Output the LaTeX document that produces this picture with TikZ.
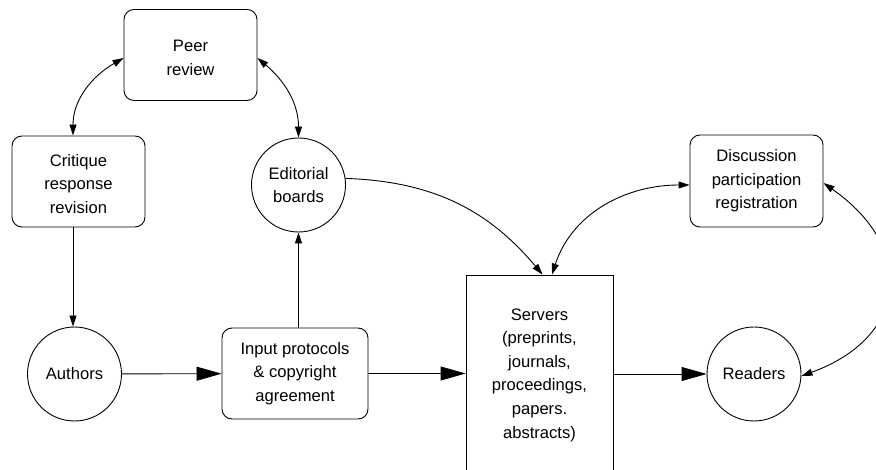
\documentclass[tikz,border=0pt]{standalone}
\usepackage{fontspec}
\setmainfont{Liberation Sans}
\usetikzlibrary{arrows.meta}
% stacked lines lowered a little inside their box, keeping the box's reported size
\newcommand{\lowstack}[2]{\raisebox{-#1}[\height][\depth]{\begin{tabular}{@{}c@{}}#2\end{tabular}}}
\begin{document}
\begin{tikzpicture}[x=1pt,y=-1pt,
  every node/.style={font=\fontsize{16.6}{23.6}\selectfont, align=center, inner sep=0pt},
  roundbox/.style={draw, line width=0.9pt, rounded corners=10pt, minimum width=#1},
  roundbox/.default=133pt,
  disc/.style={draw, line width=0.9pt, circle, minimum size=94pt},
  flow/.style={line width=0.9pt, -{Triangle[length=25pt,width=14pt]}},
  thin/.style={line width=0.9pt, -{Triangle[length=11pt,width=7pt]}},
  both/.style={line width=0.9pt, {Triangle[length=11pt,width=7pt]}-{Triangle[length=11pt,width=7pt]}}
]
\useasboundingbox (0,0) rectangle (876,470);
\fill[white] (0,0) rectangle (876,470);
\clip (0,0) rectangle (876,470);

% nodes
\node[roundbox, minimum height=91pt] (peer) at (190.5,55) {\lowstack{3.5pt}{Peer\\review}};
\node[roundbox, minimum height=91pt] (critique) at (78.5,181.5) {\lowstack{3.5pt}{Critique\\response\\revision}};
\node[disc] (editorial) at (298.5,185) {Editorial\\boards};
\node[disc] (authors) at (74.5,374) {Authors};
\node[roundbox=146pt, minimum height=91pt] (input) at (295,373.5) {Input protocols\\\& copyright\\agreement};
\node[draw, line width=0.9pt, minimum width=147pt, minimum height=200pt] (servers) at (539.5,375)
  {Servers\\(preprints,\\journals,\\proceedings,\\papers.\\abstracts)};
\node[disc] (readers) at (754,374) {Readers};
\node[roundbox, minimum height=92pt] (discussion) at (756.5,181) {Discussion\\participation\\registration};

% straight flows
\draw[thin] ([xshift=-5.5pt]critique.south) -- ([xshift=-1.5pt]authors.north);
\draw[flow] (authors) -- (input);
\draw[thin] ([xshift=3.5pt]input.north) -- (editorial.south);
\draw[flow] (input.east) -- (servers.west |- input.east);
\draw[flow] (servers.east |- readers.west) -- (readers.west);

% curved exchanges
\draw[both] ([xshift=-5.5pt]critique.north) to[out=90, in=210] ([yshift=-3pt]peer.west);
\draw[both] ([yshift=-3pt]peer.east) to[out=-40, in=90] (editorial.north);
\draw[thin] (editorial.8) to[out=-2, in=130] ([xshift=3pt]servers.north);
\draw[both] ([yshift=-4pt]discussion.west) to[out=180, in=72] ([xshift=12.5pt]servers.north);
\draw[both] ([yshift=-2pt]discussion.east) to[out=-35, in=20, looseness=1.5] ([yshift=-2pt]readers.east);
\end{tikzpicture}
\end{document}
